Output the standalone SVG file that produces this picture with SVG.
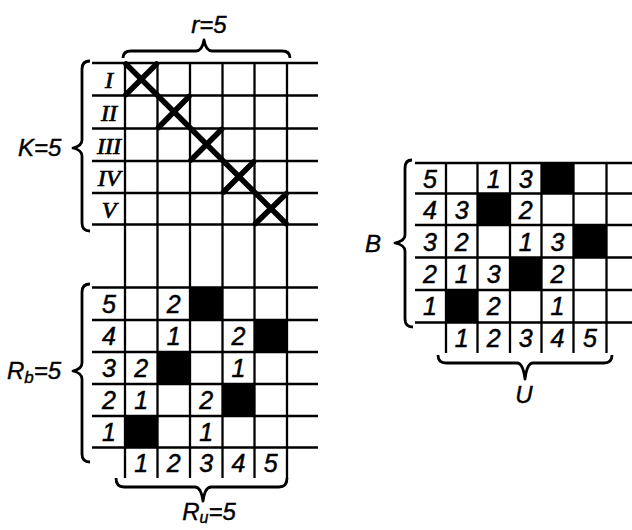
<svg xmlns="http://www.w3.org/2000/svg" width="632" height="530" viewBox="0 0 632 530">
<style>
.g{stroke:#000;stroke-width:2.3;fill:none}
.x{stroke:#000;stroke-width:5.5;stroke-linecap:round}
.br{stroke:#000;stroke-width:2.8;fill:none;stroke-linejoin:round}
.blk{fill:#000}
.d{font-family:"Liberation Sans",Arial,sans-serif;font-style:italic;font-size:25px;text-anchor:middle;fill:#000;stroke:#000;stroke-width:0.5}
.rn{font-family:"Liberation Serif","Times New Roman",serif;font-style:italic;font-size:24px;text-anchor:middle;fill:#000;stroke:#000;stroke-width:0.7}
.lb{font-family:"Liberation Sans",Arial,sans-serif;font-style:italic;font-size:24px;fill:#000;stroke:#000;stroke-width:0.4}
</style>
<rect width="632" height="530" fill="#fff"/>

<g id="left-grid">
  <g class="g">
    <path d="M92 63H318M92 95.5H318M92 128.5H318M92 161H318M92 193H318M92 224.5H318"/>
    <path d="M92 287.5H318M92 320H318M92 352H318M92 384H318M92 416H318M92 447.5H318"/>
    <path d="M125 63V478M157.5 63V478M190 63V478M222.5 63V478M254.5 63V478M287 63V478"/>
  </g>
  <g id="crosses" class="x">
    <path d="M126 64L286 223.5"/>
    <path d="M156.5 64L126 94.5M189 96.5L158.5 127.5M221.5 129.5L191 160M253.5 162L223.5 192M286 194L255.5 223.5"/>
  </g>
  <g id="left-black" class="blk">
    <rect x="190" y="287.5" width="32.5" height="32.5"/>
    <rect x="254.5" y="320" width="32.5" height="32"/>
    <rect x="157.5" y="352" width="32.5" height="32"/>
    <rect x="222.5" y="384" width="32" height="32"/>
    <rect x="125" y="416" width="32.5" height="31.5"/>
  </g>
  <g id="roman" class="rn">
    <text x="109" y="88">I</text>
    <text x="109" y="121">II</text>
    <text x="109" y="153.5">III</text>
    <text x="109" y="186">IV</text>
    <text x="109" y="217.5">V</text>
  </g>
  <g id="left-digits" class="d">
    <text x="109" y="313">5</text>
    <text x="109" y="345">4</text>
    <text x="109" y="377">3</text>
    <text x="109" y="409">2</text>
    <text x="109" y="441">1</text>
    <text x="173.75" y="313">2</text>
    <text x="173.75" y="345">1</text>
    <text x="238.5" y="345">2</text>
    <text x="141.25" y="377">2</text>
    <text x="238.5" y="377">1</text>
    <text x="141.25" y="409">1</text>
    <text x="206.25" y="409">2</text>
    <text x="206.25" y="441">1</text>
    <text x="141.25" y="472">1</text>
    <text x="173.75" y="472">2</text>
    <text x="206.25" y="472">3</text>
    <text x="238.5" y="472">4</text>
    <text x="270.75" y="472">5</text>
  </g>
</g>

<g id="right-grid">
  <g class="g">
    <path d="M415 163H632M415 193.5H632M415 225H632M415 257.5H632M415 290H632M415 322.5H632"/>
    <path d="M446 163V353M477.5 163V353M510 163V353M541.5 163V353M573.5 163V353M606.5 163V353"/>
  </g>
  <g id="right-black" class="blk">
    <rect x="541.5" y="163" width="32" height="30.5"/>
    <rect x="477.5" y="193.5" width="32.5" height="31.5"/>
    <rect x="573.5" y="225" width="33" height="32.5"/>
    <rect x="510" y="257.5" width="31.5" height="32.5"/>
    <rect x="446" y="290" width="31.5" height="32.5"/>
  </g>
  <g id="right-digits" class="d">
    <text x="430" y="188">5</text>
    <text x="430" y="219">4</text>
    <text x="430" y="251">3</text>
    <text x="430" y="283">2</text>
    <text x="430" y="315">1</text>
    <text x="493.75" y="188">1</text>
    <text x="525.75" y="188">3</text>
    <text x="461.75" y="219">3</text>
    <text x="525.75" y="219">2</text>
    <text x="461.75" y="251">2</text>
    <text x="525.75" y="251">1</text>
    <text x="557.5" y="251">3</text>
    <text x="461.75" y="283">1</text>
    <text x="493.75" y="283">3</text>
    <text x="557.5" y="283">2</text>
    <text x="493.75" y="315">2</text>
    <text x="557.5" y="315">1</text>
    <text x="461.75" y="347">1</text>
    <text x="493.75" y="347">2</text>
    <text x="525.75" y="347">3</text>
    <text x="557.5" y="347">4</text>
    <text x="590" y="347">5</text>
  </g>
</g>

<g id="braces" class="br">
  <path d="M123 58Q123 51 131 51L196 51Q202 51 204 40Q206 51 212 51L282 51Q290 51 290 58"/>
  <path d="M90 61Q82 61 82 69L82 140Q82 146 73 148Q82 150 82 156L82 223Q82 231 90 231"/>
  <path d="M90 284Q82 284 82 292L82 363Q82 369 73 371Q82 373 82 379L82 454Q82 462 90 462"/>
  <path d="M116 478Q116 487 124 487L195 487Q201 487 203 501Q205 487 211 487L279 487Q287 487 287 478"/>
  <path d="M412 160Q405 160 405 168L405 235Q405 241 395 243Q405 245 405 251L405 319Q405 327 413 327"/>
  <path d="M438 355Q438 363 446 363L517 363Q523 363 525 379Q527 363 533 363L604 363Q612 363 612 355"/>
</g>

<g id="labels" class="lb">
  <text x="209" y="33" text-anchor="middle">r=5</text>
  <text x="18" y="156">K=5</text>
  <text x="7" y="379">R<tspan font-size="17" dy="4">b</tspan><tspan dy="-4">=5</tspan></text>
  <text x="209" y="520" text-anchor="middle">R<tspan font-size="16" dy="3">u</tspan><tspan dy="-3">=5</tspan></text>
  <text x="373" y="252" text-anchor="middle">B</text>
  <text x="524" y="403" text-anchor="middle">U</text>
</g>
</svg>
